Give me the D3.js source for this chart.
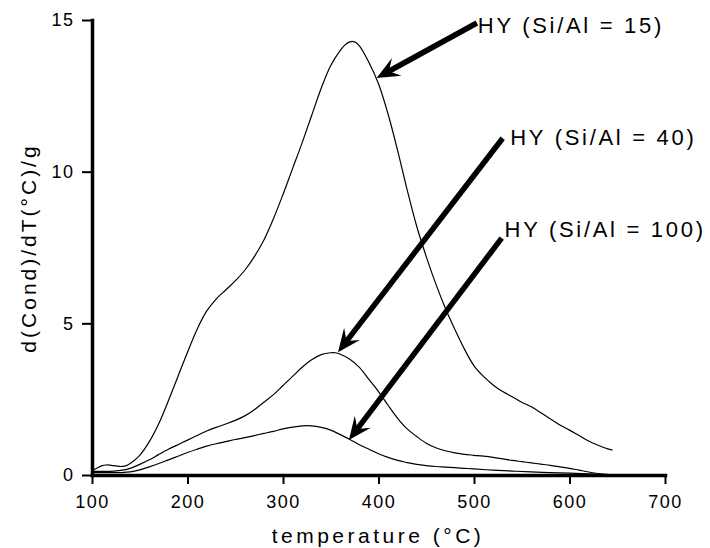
<!DOCTYPE html>
<html><head><meta charset="utf-8">
<script src="https://cdn.jsdelivr.net/npm/d3@7"></script>
<style>
body{margin:0;background:#fff;}
svg text{font-family:"Liberation Sans",Arial,Helvetica,sans-serif;fill:#000;}
</style></head>
<body><svg id="c" width="710" height="548"></svg>
<script>
// ---- data ----
const xTicks = [100,200,300,400,500,600,700];
const yTicks = [0,5,10,15];
const xTitle = "temperature (°C)";
const yTitle = "d(Cond)/dT(°C)/g";

const temps15 = [100,105,110,115,120,125,130,135,140,150,160,170,180,190,200,210,220,230,240,250,260,270,280,290,300,310,320,330,340,350,360,365,370,375,380,390,400,410,420,430,440,450,460,470,480,490,500,510,520,530,540,550,560,570,580,590,600,610,620,630,640,645];
const vals15 = [0.15,0.22,0.3,0.33,0.32,0.3,0.28,0.3,0.38,0.65,1.1,1.7,2.45,3.25,4.05,4.8,5.4,5.8,6.1,6.4,6.75,7.2,7.75,8.45,9.25,10.1,10.95,11.85,12.75,13.5,14.0,14.18,14.28,14.28,14.15,13.6,12.9,11.9,10.7,9.4,8.2,7.2,6.3,5.5,4.8,4.15,3.6,3.25,2.97,2.75,2.58,2.4,2.25,2.05,1.85,1.65,1.48,1.3,1.12,0.98,0.86,0.82];

const temps40 = [100,110,120,130,140,150,160,170,180,190,200,210,220,230,240,250,260,270,280,290,300,310,320,330,340,350,355,360,370,380,390,400,410,420,430,440,450,460,470,480,490,500,510,520,530,540,550,560,570,580,590,600,610,620,630,640];
const vals40 = [0.12,0.12,0.12,0.15,0.22,0.35,0.5,0.68,0.85,1.0,1.15,1.3,1.45,1.57,1.68,1.8,1.95,2.15,2.4,2.65,2.95,3.25,3.55,3.8,3.97,4.03,4.03,3.98,3.82,3.55,3.15,2.75,2.3,1.87,1.52,1.27,1.05,0.9,0.8,0.73,0.68,0.65,0.62,0.58,0.53,0.48,0.44,0.4,0.36,0.32,0.27,0.22,0.16,0.1,0.05,0.02];

const temps100 = [100,110,120,130,140,150,160,170,180,190,200,210,220,230,240,250,260,270,280,290,300,310,320,330,340,350,360,370,380,390,400,410,420,430,440,450,460,470,480,490,500,520,540,560,580,600,620,635];
const vals100 = [0.08,0.08,0.08,0.08,0.1,0.17,0.27,0.38,0.5,0.62,0.74,0.85,0.95,1.03,1.1,1.17,1.23,1.3,1.37,1.44,1.52,1.58,1.62,1.62,1.57,1.48,1.33,1.17,1.0,0.85,0.7,0.58,0.48,0.41,0.35,0.31,0.28,0.26,0.24,0.22,0.2,0.16,0.13,0.1,0.08,0.06,0.04,0.02];

// annotations (data coords): label position, arrow tail, arrow tip
const labels = ["HY (Si/Al = 15)","HY (Si/Al = 40)","HY (Si/Al = 100)"];
const labelX = [504,538,532];
const labelY = [14.57,10.88,7.85];
const tailX = [503,530,529];
const tailY = [14.9,11.1,7.81];
const tipX = [398,357.6,369];
const tipY = [13.09,4.05,1.15];

// ---- chart ----
const svg = d3.select("#c");
const x = d3.scaleLinear().domain([100,700]).range([92,665]);
const y = d3.scaleLinear().domain([0,15]).range([475,20]);

const line = d3.line().x(d=>x(d[0])).y(d=>y(d[1])).curve(d3.curveCatmullRom.alpha(0.5));
[[temps15,vals15],[temps40,vals40],[temps100,vals100]].forEach(([t,v])=>{
  svg.append("path").datum(t.map((d,i)=>[d,v[i]]))
    .attr("d",line).attr("fill","none").attr("stroke","#000").attr("stroke-width",1.2);
});

// axes
const gx = svg.append("g").attr("transform","translate(0,475)")
  .call(d3.axisBottom(x).tickValues(xTicks).tickFormat(d3.format("d")).tickSize(9).tickSizeOuter(0).tickPadding(11));
const gy = svg.append("g").attr("transform","translate(92,0)")
  .call(d3.axisLeft(y).tickValues(yTicks).tickFormat(d3.format("d")).tickSize(10).tickSizeOuter(0).tickPadding(9));
[gx,gy].forEach(g=>{
  g.select(".domain").attr("stroke","#000").attr("stroke-width",3.5).attr("stroke-linecap","square");
  g.selectAll(".tick line").attr("stroke","#000").attr("stroke-width",2);
  g.selectAll(".tick text").attr("font-size",18).attr("font-family","'Liberation Sans',Arial,sans-serif").attr("letter-spacing","1.5px").attr("fill","#000");
});
gy.selectAll(".tick text").attr("dx","1.5px");

svg.append("text").attr("x",378).attr("y",543).attr("text-anchor","middle")
  .attr("font-size",21).attr("letter-spacing","3.5px").text(xTitle);
svg.append("text").attr("transform","translate(36,248) rotate(-90)").attr("text-anchor","middle")
  .attr("font-size",21).attr("letter-spacing","3px").text(yTitle);

// arrows + labels
labels.forEach((lab,i)=>{
  const x0=x(tailX[i]), y0=y(tailY[i]), x1=x(tipX[i]), y1=y(tipY[i]);
  const dx=x1-x0, dy=y1-y0, L=Math.hypot(dx,dy), ux=dx/L, uy=dy/L, nx=-uy, ny=ux;
  const headL=23, headW=10, notch=14;
  svg.append("line").attr("x1",x0).attr("y1",y0).attr("x2",x1-ux*notch).attr("y2",y1-uy*notch)
    .attr("stroke","#000").attr("stroke-width",5.5);
  const pts=[[x1,y1],[x1-ux*headL+nx*headW,y1-uy*headL+ny*headW],[x1-ux*notch,y1-uy*notch],[x1-ux*headL-nx*headW,y1-uy*headL-ny*headW]];
  svg.append("polygon").attr("points",pts.map(p=>p.join(",")).join(" ")).attr("fill","#000");
  svg.append("text").attr("x",x(labelX[i])).attr("y",y(labelY[i])).attr("font-size",22)
    .attr("letter-spacing","2.7px").text(lab);
});
</script></body></html>
